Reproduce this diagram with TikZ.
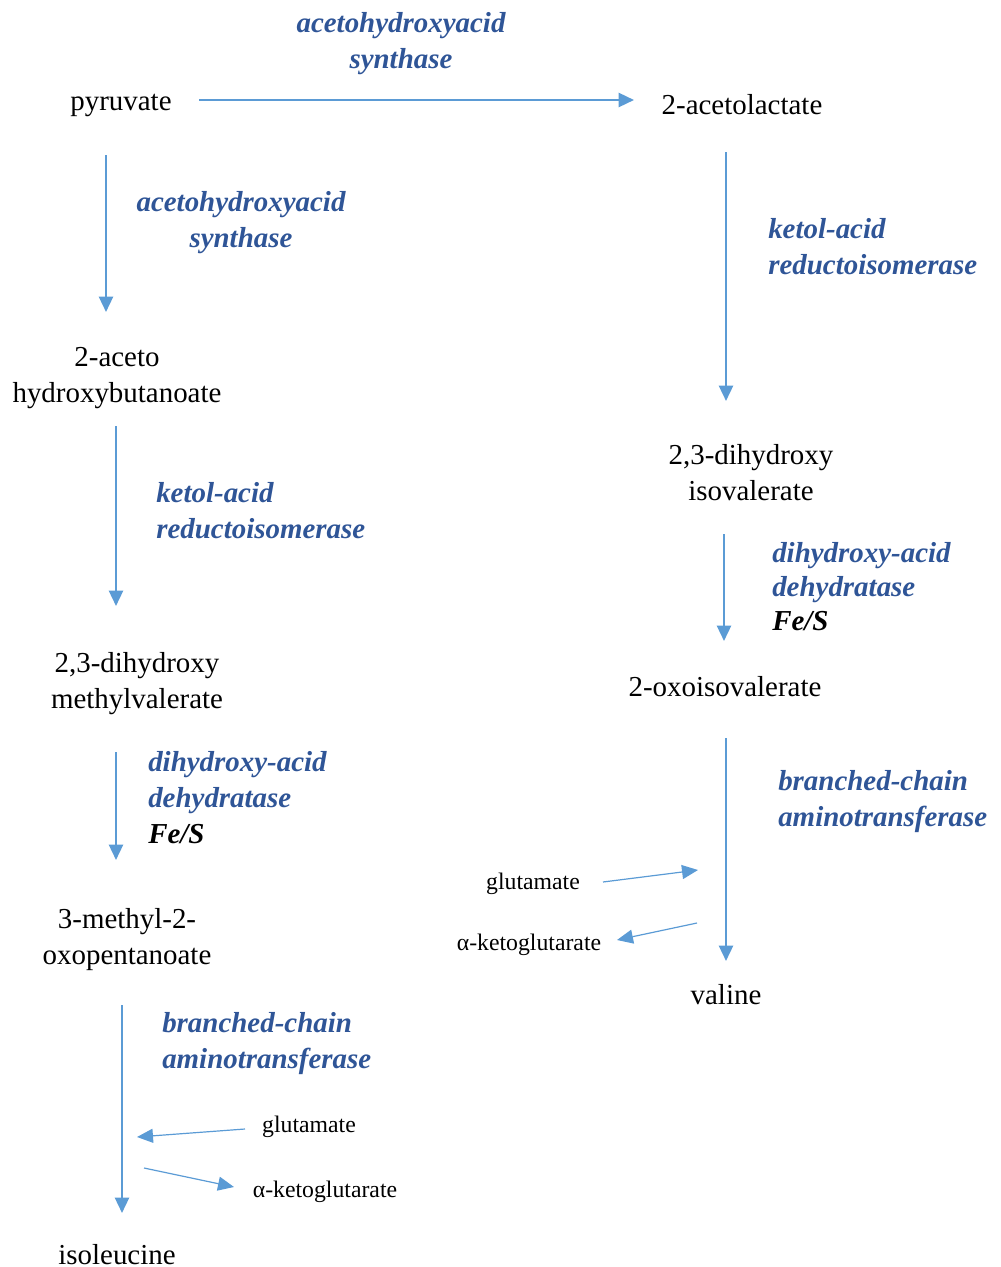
\documentclass[tikz,border=0pt]{standalone}
\usepackage{fontspec}
\setmainfont{Liberation Serif}
\usetikzlibrary{arrows.meta,calc}
\definecolor{enzblue}{RGB}{47,85,151}
\definecolor{arrblue}{RGB}{91,155,213}
\begin{document}
\begin{tikzpicture}[x={(0.75pt,0)},y={(0,-0.75pt)},
  cmp/.style={font=\fontsize{21.7pt}{27pt}\selectfont, align=center, inner sep=0pt},
  enz/.style={font=\fontsize{21.7pt}{27pt}\selectfont\bfseries\itshape, text=enzblue, inner sep=0pt},
  enzL/.style={enz, anchor=west, align=left},
  enzC/.style={enz, align=center},
  met/.style={font=\fontsize{17.8pt}{21pt}\selectfont, inner sep=0pt},
  arr/.style={draw=arrblue, line width=1.8pt, -{Triangle[length=11.5pt,width=10.5pt]}},
  sarr/.style={draw=arrblue, line width=0.9pt, -{Triangle[length=12pt,width=10.5pt]}}]
\useasboundingbox (0,0) rectangle (1000,1267);

% compounds
\node[cmp] (pyr) at (121,105) {pyruvate};
\node[cmp] (acl) at (742,105) {2-acetolactate};
\node[cmp] (ahb) at (117,378) {2-aceto\\hydroxybutanoate};
\node[cmp] (dmv) at (137,684) {2,3-dihydroxy\\methylvalerate};
\node[cmp] (mop) at (127,940) {3-methyl-2-\\oxopentanoate};
\node[cmp] (ile) at (117,1255) {isoleucine};
\node[cmp] (dhi) at (751,473) {2,3-dihydroxy\\isovalerate};
\node[cmp] (oiv) at (725,687) {2-oxoisovalerate};
\node[cmp] (val) at (726,995) {valine};

% co-substrates of the transaminations
\node[met] (glu1) at (533,884) {glutamate};
\node[met] (akg1) at (529,945) {α-ketoglutarate};
\node[met] (glu2) at (309,1127) {glutamate};
\node[met] (akg2) at (325,1192) {α-ketoglutarate};

% enzymes
\node[enzC] (e1) at (401,44) {acetohydroxyacid\\synthase};
\node[enzC] (e2) at (241,223) {acetohydroxyacid\\synthase};
\node[enzL] (e3) at (156,511) {ketol-acid\\reductoisomerase};
\node[enzL] (e4) at (148,798) {dihydroxy-acid\\dehydratase\\\textcolor{black}{Fe/S}};
\node[enzL] (e5) at (162,1044) {branched-chain\\aminotransferase};
\node[enzL] (e6) at (768,247) {ketol-acid\\reductoisomerase};
\node[enzL, font=\fontsize{21.7pt}{25.5pt}\selectfont\bfseries\itshape] (e7) at (772,587) {dihydroxy-acid\\dehydratase\\\textcolor{black}{Fe/S}};
\node[enzL] (e8) at (778,802) {branched-chain\\aminotransferase};

% reaction arrows
\draw[arr] ($(pyr)+(78,-5)$) -- ($(acl)+(-108,-5)$);
\draw[arr] ($(pyr)+(-15,50)$) -- ($(ahb)+(-11,-66)$);
\draw[arr] ($(ahb)+(-1,48)$) -- ($(dmv)+(-21,-78)$);
\draw[arr] ($(dmv)+(-21,68)$) -- ($(mop)+(-11,-80)$);
\draw[arr] ($(mop)+(-5,65)$) -- ($(ile)+(5,-42)$);
\draw[arr] ($(acl)+(-16,47)$) -- ($(dhi)+(-25,-72)$);
\draw[arr] ($(dhi)+(-27,61)$) -- ($(oiv)+(-1,-46)$);
\draw[arr] ($(oiv)+(1,51)$) -- ($(val)+(0,-34)$);

% amino group exchange
\coordinate (v1) at ($(glu1)+(165,-14)$);
\draw[sarr] ($(glu1)+(70,-2)$) -- (v1);
\coordinate (v2) at ($(akg1)+(168,-22)$);
\draw[sarr] (v2) -- ($(akg1)+(88,-5)$);
\coordinate (i1) at ($(glu2)+(-172,10)$);
\draw[sarr] ($(glu2)+(-64,2)$) -- (i1);
\coordinate (i2) at ($(akg2)+(-181,-24)$);
\draw[sarr] (i2) -- ($(akg2)+(-91,-5)$);
\end{tikzpicture}
\end{document}
